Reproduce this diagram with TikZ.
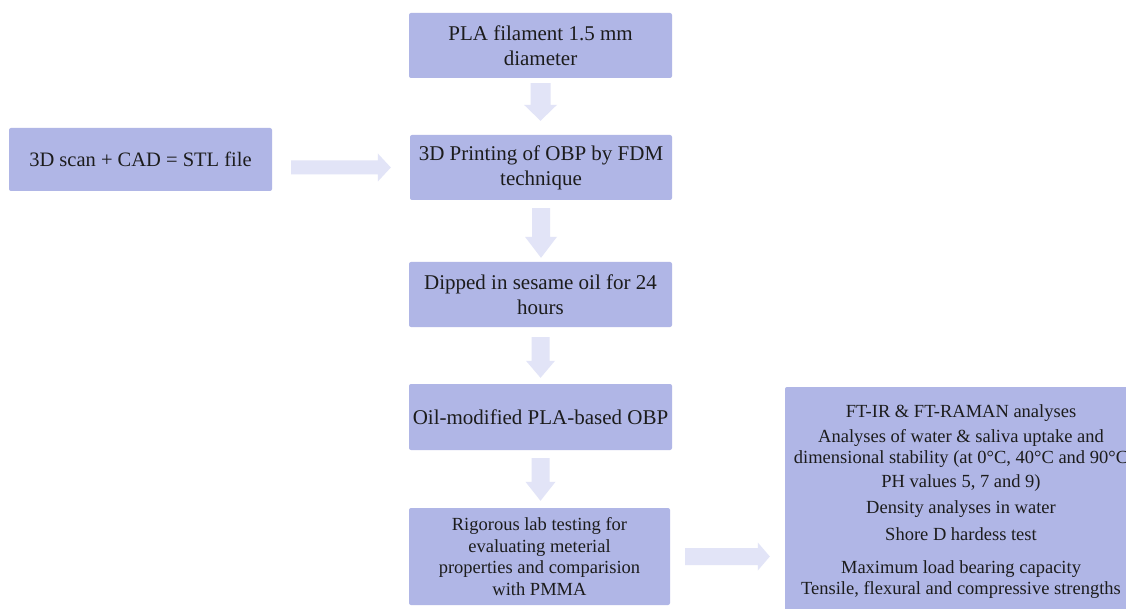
\documentclass[tikz,border=0pt]{standalone}
\usepackage{fontspec}
\setmainfont{Liberation Serif}
\usetikzlibrary{calc}
\definecolor{boxc}{RGB}{176,182,230}
\definecolor{arrc}{RGB}{226,228,247}
\definecolor{txtc}{RGB}{28,28,28}
\begin{document}
\begin{tikzpicture}[x=1pt,y=-1pt,
  box/.style={fill=boxc, rounded corners=2pt, inner sep=0pt, text=txtc, align=center},
  bigtext/.style={font=\fontsize{21}{25}\selectfont},
  smalltext/.style={font=\fontsize{18.5}{21.7}\selectfont},
  line/.style={text=txtc, font=\fontsize{18.5}{21.7}\selectfont, anchor=base, inner sep=0pt},
  downblock/.style n args={5}{fill=arrc, draw=none, to path={let \p1=(\tikztostart), \p2=(\tikztotarget) in (\x1-#3,\y1-#1) -- (\x1+#3,\y1-#1) -- (\x1+#3,\y2+#2+#5) -- (\x1+#4,\y2+#2+#5) -- (\x1,\y2+#2) -- (\x1-#4,\y2+#2+#5) -- (\x1-#3,\y2+#2+#5) -- cycle}},
  rightblock/.style n args={5}{fill=arrc, draw=none, to path={let \p1=(\tikztostart), \p2=(\tikztotarget) in (\x1+#1,\y2+#3) -- (\x1+#1,\y2-#3) -- (\x2-#2-#5,\y2-#3) -- (\x2-#2-#5,\y2-#4) -- (\x2-#2,\y2) -- (\x2-#2-#5,\y2+#4) -- (\x2-#2-#5,\y2+#3) -- cycle}}
]
\useasboundingbox (0,0) rectangle (1126,609);
\fill[white] (0,0) rectangle (1126,609);
\clip (0,0) rectangle (1126,609);

\node[box, bigtext, minimum width=263pt, minimum height=65pt] (b1) at (540.5,45.5) {PLA filament 1.5 mm\\diameter};
\node[box, bigtext, minimum width=262pt, minimum height=65pt] (b2) at (541,167.5) {3D Printing of OBP by FDM\\technique};
\node[box, font=\fontsize{20.5}{24}\selectfont, minimum width=263pt, minimum height=63pt] (left) at (140.5,159.5) {3D scan + CAD = STL file};
\node[box, bigtext, minimum width=263pt, minimum height=65pt] (b3) at (540.5,294.5) {Dipped in sesame oil for 24\\hours};
\node[box, bigtext, minimum width=263pt, minimum height=66pt] (b4) at (540.5,417) {Oil-modified PLA-based OBP};
\node[box, smalltext, minimum width=261pt, minimum height=97pt] (b5) at (539.5,556.5) {Rigorous lab testing for\\evaluating meterial\\properties and comparision\\with PMMA};
\node[box, minimum width=345pt, minimum height=226pt] (res) at (957.5,500) {};

\node[line] (r1) at (961,417) {FT-IR \& FT-RAMAN analyses};
\node[line] (r2) at (961,442) {Analyses of water \& saliva uptake and};
\node[line] (r3) at (961,463.5) {dimensional stability (at 0°C, 40°C and 90°C};
\node[line] (r4) at (961,487) {PH values 5, 7 and 9)};
\node[line] (r5) at (961,513) {Density analyses in water};
\node[line] (r6) at (961,540.5) {Shore D hardess test};
\node[line] (r7) at (961,573) {Maximum load bearing capacity};
\node[line] (r8) at (961,594.5) {Tensile, flexural and compressive strengths};

\path[downblock={5pt}{14pt}{10pt}{16.5pt}{16pt}] (b1.south) to (b2.north);
\path[downblock={8pt}{4pt}{9pt}{16pt}{21pt}] (b2.south) to (b3.north);
\path[downblock={10pt}{6pt}{9pt}{14.5pt}{17pt}] (b3.south) to (b4.north);
\path[downblock={8pt}{7pt}{9pt}{15pt}{19pt}] (b4.south) to (b5.north);
\path[rightblock={19pt}{19pt}{7pt}{14pt}{13pt}] (left.east |- b2.west) to (b2.west);
\path[rightblock={15pt}{15pt}{8.5pt}{14pt}{12pt}] (b5.east) to (b5.east -| res.west);
\end{tikzpicture}
\end{document}
